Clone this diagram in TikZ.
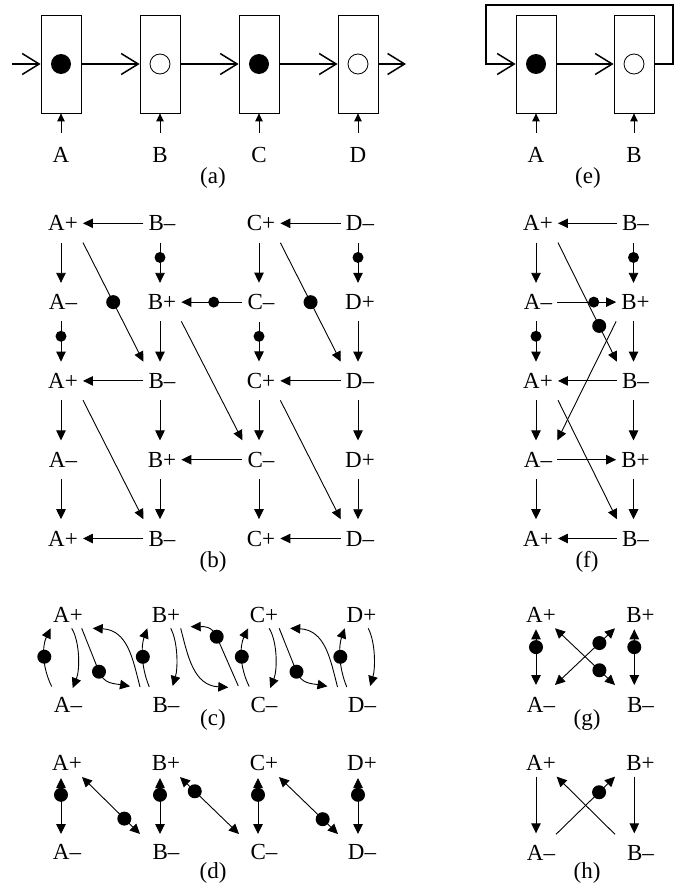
\documentclass[tikz,border=0pt]{standalone}
\usepackage{fontspec}
\setmainfont{Liberation Serif}
\usetikzlibrary{arrows.meta}
\begin{document}
\begin{tikzpicture}[x=1pt,y=-1pt,
  >={Triangle[length=10pt,width=9.5pt]},
  arr/.style={->, line width=0.9pt},
  darr/.style={<->, line width=0.9pt},
  uparr/.style={-{Triangle[length=8pt,width=7.5pt]}, line width=0.9pt},
  oarr/.style={-{Straight Barb[length=17pt,width=21pt]}, line width=1.5pt},
  cell/.style={draw, line width=0.8pt, minimum width=40pt, minimum height=98pt, inner sep=0pt},
  fcirc/.style={circle, fill=black, inner sep=0pt, minimum size=20pt},
  ocirc/.style={circle, draw, line width=0.8pt, fill=white, inner sep=0pt, minimum size=20pt},
  lb/.style={font=\fontsize{23}{27}\selectfont, inner xsep=5pt, inner ysep=11.5pt},
  tl/.style={font=\fontsize{23}{27}\selectfont, inner sep=0pt},
  sd/.style={circle, fill=black, inner sep=0pt, minimum size=11pt},
  bd/.style={circle, fill=black, inner sep=0pt, minimum size=14pt},
]
\useasboundingbox (0,0) rectangle (688,894);

% ---------------- (a) ----------------
\foreach \i/\x/\sty/\lab in {1/61/fcirc/A,2/160/ocirc/B,3/259/fcirc/C,4/358/ocirc/D}{
  \node[cell] (a\i) at (\x,64) {};
  \node[\sty] (ac\i) at (\x,64) {};
  \node[tl] (al\i) at (\x,155) {\lab};
  \draw[uparr, shorten <=14pt] (al\i.north) -- (a\i.south);
}
\coordinate (ain) at (12,64);
\coordinate (aout) at (406,64);
\draw[oarr] (ain) -- (a1.west);
\foreach \i/\j in {1/2,2/3,3/4} \draw[oarr] (a\i.east) -- (a\j.west);
\draw[oarr] (a4.east) -- (aout);
\node[tl] (capa) at (213,177.5) {(a)};

% ---------------- (e) ----------------
\foreach \i/\x/\sty/\lab in {1/536/fcirc/A,2/634/ocirc/B}{
  \node[cell] (e\i) at (\x,64) {};
  \node[\sty] (ec\i) at (\x,64) {};
  \node[tl] (el\i) at (\x,155) {\lab};
  \draw[uparr, shorten <=14pt] (el\i.north) -- (e\i.south);
}
\draw[oarr] (e1.east) -- (e2.west);
\coordinate (elr) at (673,5);
\coordinate (ell) at (486,5);
\draw[oarr] (e2.east) -| (elr) -- (ell) |- (e1.west);
\node[tl] (cape) at (588,177.5) {(e)};

% ---------------- (b) ----------------
\coordinate (xbA) at (61,0);
\coordinate (xbB) at (160,0);
\coordinate (xbC) at (259,0);
\coordinate (xbD) at (358,0);
\foreach \r/\y in {1/223.3,3/380.9,5/538.5}{
  \node[lb] (bA\r) at (63,\y) {A+};
  \node[lb] (bB\r) at (162,\y) {B–};
  \node[lb] (bC\r) at (261,\y) {C+};
  \node[lb] (bD\r) at (360,\y) {D–};
}
\foreach \r/\y in {2/302.1,4/459.7}{
  \node[lb] (bA\r) at (63,\y) {A–};
  \node[lb] (bB\r) at (162,\y) {B+};
  \node[lb] (bC\r) at (261,\y) {C–};
  \node[lb] (bD\r) at (360,\y) {D+};
}
\foreach \r in {1,3,5}{
  \draw[arr] (bB\r.west) -- (bA\r.east);
  \draw[arr] (bD\r.west) -- (bC\r.east);
}
\draw[arr] (bC2.west) -- node[sd,pos=0.47] (bdh2) {} (bB2.east);
\draw[arr] (bC4.west) -- (bB4.east);
\foreach \cl/\r in {A/1,C/1,B/2,D/2,A/3,B/3,C/3,D/3,A/4,B/4,C/4,D/4}{
  \pgfmathtruncatemacro\rr{\r+1}
  \draw[arr] (b\cl\r.south -| xb\cl) -- (b\cl\rr.north -| xb\cl);
}
\foreach \cl/\r in {B/1,D/1,A/2,C/2}{
  \pgfmathtruncatemacro\rr{\r+1}
  \draw[arr] (b\cl\r.south -| xb\cl) -- node[sd,pos=0.37] (bdv\cl\r) {} (b\cl\rr.north -| xb\cl);
}
\draw[arr] (bA1.south east) -- node[bd] (bdd1) {} (bB3.north west);
\draw[arr] (bC1.south east) -- node[bd] (bdd2) {} (bD3.north west);
\draw[arr] (bB2.south east) -- (bC4.north west);
\draw[arr] (bA3.south east) -- (bB5.north west);
\draw[arr] (bC3.south east) -- (bD5.north west);
\node[tl] (capb) at (213,562) {(b)};

% ---------------- (f) ----------------
\coordinate (xfA) at (536,0);
\coordinate (xfB) at (633.5,0);
\foreach \r/\y in {1/223.3,3/380.9,5/538.5}{
  \node[lb] (fA\r) at (538,\y) {A+};
  \node[lb] (fB\r) at (635.5,\y) {B–};
}
\foreach \r/\y in {2/302.1,4/459.7}{
  \node[lb] (fA\r) at (538,\y) {A–};
  \node[lb] (fB\r) at (635.5,\y) {B+};
}
\foreach \r in {1,3,5} \draw[arr] (fB\r.west) -- (fA\r.east);
\draw[arr] (fA2.east) -- node[sd,pos=0.62] (fdh2) {} (fB2.west);
\draw[arr] (fA4.east) -- (fB4.west);
\foreach \cl/\r in {A/1,B/2,A/3,B/3,A/4,B/4}{
  \pgfmathtruncatemacro\rr{\r+1}
  \draw[arr] (f\cl\r.south -| xf\cl) -- (f\cl\rr.north -| xf\cl);
}
\foreach \cl/\r in {B/1,A/2}{
  \pgfmathtruncatemacro\rr{\r+1}
  \draw[arr] (f\cl\r.south -| xf\cl) -- node[sd,pos=0.37] (fdv\cl\r) {} (f\cl\rr.north -| xf\cl);
}
\draw[arr] (fA1.south east) -- node[bd,pos=0.7] (fdd1) {} (fB3.north west);
\draw[arr] (fB2.south west) -- (fA4.north east);
\draw[arr] (fA3.south east) -- (fB5.north west);
\node[tl] (capf) at (587,562) {(f)};

% ---------------- (c) ----------------
\node[tl] (cAp) at (68,615) {A+};
\node[tl] (cBp) at (166,615) {B+};
\node[tl] (cCp) at (264,615) {C+};
\node[tl] (cDp) at (361.5,615) {D+};
\node[tl] (cAm) at (68,705) {A–};
\node[tl] (cBm) at (166,705) {B–};
\node[tl] (cCm) at (264,705) {C–};
\node[tl] (cDm) at (362,705) {D–};
\foreach \s/\n in {0/1,197.5/2}{
\begin{scope}[xshift=\s pt]
  \coordinate (ca\n) at (51.7,686.5);
  \coordinate (cb\n) at (50.7,628.3);
  \draw[arr] (ca\n) .. controls (42,667) and (42,646) .. node[bd,pos=0.5] (cdu\n) {} (cb\n);
  \coordinate (cc\n) at (71.7,628.3);
  \coordinate (cd\n) at (72.7,688);
  \draw[arr] (cc\n) .. controls (80,642) and (80,670) .. (cd\n);
  \coordinate (ce\n) at (81.7,628.3);
  \coordinate (cf\n) at (99,671.7);
  \coordinate (cg\n) at (130,686.3);
  \draw[arr] (ce\n) -- (cf\n) .. controls (104,684) and (114,683.5) .. (cg\n);
  \node[bd] (cdx\n) at (cf\n) {};
  \coordinate (ch\n) at (140,687);
  \coordinate (ci\n) at (92.7,628.3);
  \draw[arr] (ch\n) .. controls (133,660) and (128,630) .. (ci\n);
  \coordinate (cj\n) at (149.3,687);
  \coordinate (ck\n) at (147.3,628.3);
  \draw[arr] (cj\n) .. controls (141,667) and (141,646) .. node[bd,pos=0.5] (cdv\n) {} (ck\n);
  \coordinate (cl\n) at (170.7,628.3);
  \coordinate (cm\n) at (172.7,686);
  \draw[arr] (cl\n) .. controls (178,642) and (178,668) .. (cm\n);
\end{scope}
}
\coordinate (cn1) at (180.7,628.3);
\coordinate (cn2) at (228.3,687.3);
\draw[arr] (cn1) .. controls (187.7,655.3) and (193.3,685.6) .. (cn2);
\coordinate (cn3) at (238.3,686);
\coordinate (cn4) at (216.7,636.7);
\coordinate (cn5) at (190.7,626.7);
\draw[arr] (cn3) -- (cn4) .. controls (212,626) and (204,626.5) .. (cn5);
\node[bd] (cdm) at (cn4) {};
\node[tl] (capc) at (213,719.5) {(c)};

% ---------------- (d) ----------------
\node[tl] (dAp) at (67,763) {A+};
\node[tl] (dBp) at (166,763) {B+};
\node[tl] (dCp) at (264,763) {C+};
\node[tl] (dDp) at (362,763) {D+};
\node[tl] (dAm) at (67,852) {A–};
\node[tl] (dBm) at (166,852) {B–};
\node[tl] (dCm) at (264,852) {C–};
\node[tl] (dDm) at (362,852) {D–};
\foreach \x/\n in {61/1,160/2,258/3,358/4}{
  \coordinate (dt\n) at (\x,778);
  \coordinate (db\n) at (\x,834);
  \draw[darr] (dt\n) -- node[bd,pos=0.3] (ddv\n) {} (db\n);
}
\coordinate (dg1a) at (82,777);
\coordinate (dg1b) at (140,834);
\draw[darr] (dg1a) -- node[bd,pos=0.73] (ddg1) {} (dg1b);
\coordinate (dg2a) at (180,777);
\coordinate (dg2b) at (239,834);
\draw[darr] (dg2a) -- node[bd,pos=0.25] (ddg2) {} (dg2b);
\coordinate (dg3a) at (279,777);
\coordinate (dg3b) at (338,834);
\draw[darr] (dg3a) -- node[bd,pos=0.74] (ddg3) {} (dg3b);
\node[tl] (capd) at (213,873) {(d)};

% ---------------- (g) ----------------
\node[tl] (gAp) at (541,615) {A+};
\node[tl] (gBp) at (640.5,615) {B+};
\node[tl] (gAm) at (541,705) {A–};
\node[tl] (gBm) at (640.5,705) {B–};
\foreach \x/\n in {536/1,634.3/2}{
  \coordinate (gt\n) at (\x,629.3);
  \coordinate (gb\n) at (\x,685);
  \draw[darr] (gt\n) -- node[bd,pos=0.32] (gdv\n) {} (gb\n);
}
\coordinate (gx1a) at (555,628.3);
\coordinate (gx1b) at (615,685);
\draw[darr] (gx1a) -- node[bd,pos=0.74] (gdx1) {} (gx1b);
\coordinate (gx2a) at (555,685);
\coordinate (gx2b) at (615,628.3);
\draw[darr] (gx2a) -- node[bd,pos=0.74] (gdx2) {} (gx2b);
\node[tl] (capg) at (587,720) {(g)};

% ---------------- (h) ----------------
\node[tl] (hAp) at (541,763) {A+};
\node[tl] (hBp) at (640.5,763) {B+};
\node[tl] (hAm) at (541,853) {A–};
\node[tl] (hBm) at (640.5,853) {B–};
\foreach \x/\n in {536/1,634.3/2}{
  \coordinate (ht\n) at (\x,776.7);
  \coordinate (hb\n) at (\x,833.3);
  \draw[arr] (ht\n) -- (hb\n);
}
\coordinate (hx1a) at (615,834.3);
\coordinate (hx1b) at (556.7,776.7);
\draw[arr] (hx1a) -- (hx1b);
\coordinate (hx2a) at (556,834.3);
\coordinate (hx2b) at (615,776.7);
\draw[arr] (hx2a) -- node[bd,pos=0.73] (hdx2) {} (hx2b);
\node[tl] (caph) at (587,873) {(h)};
\end{tikzpicture}
\end{document}
